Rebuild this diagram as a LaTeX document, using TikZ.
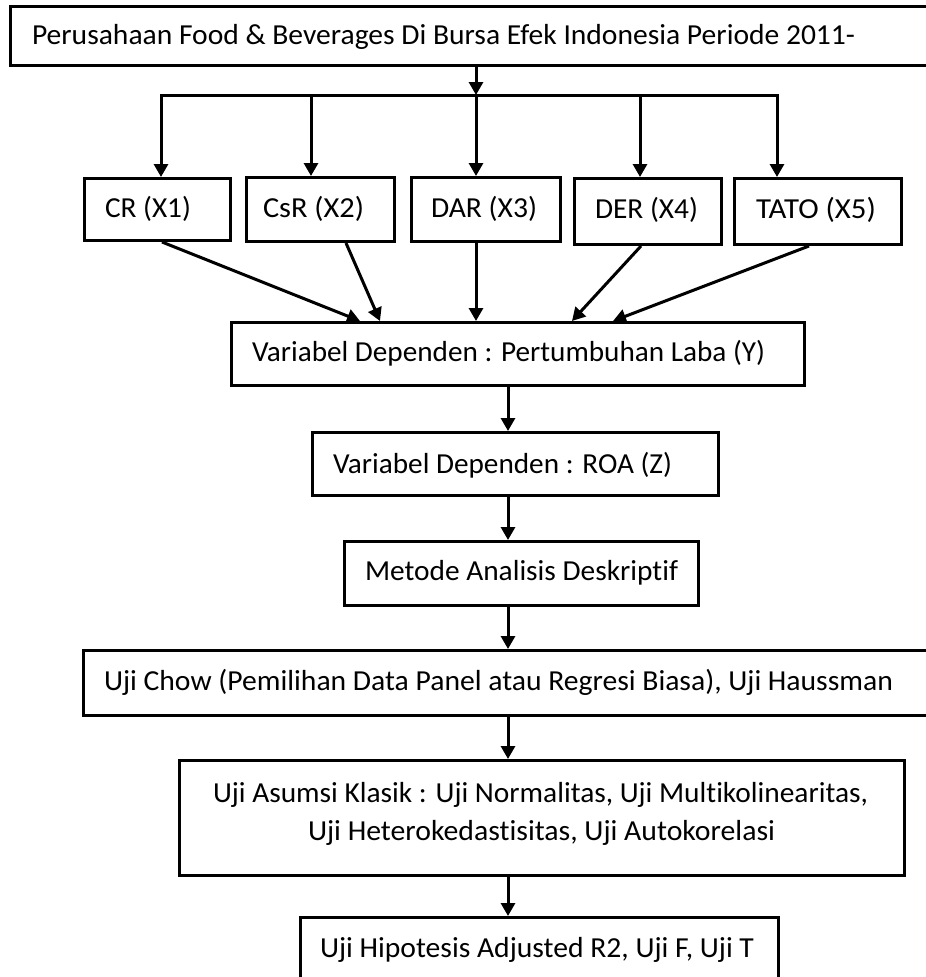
\documentclass[tikz,border=0pt]{standalone}
\usepackage{fontspec}
\setmainfont{Carlito}[Ligatures=NoCommon]
\usepackage{graphicx}
\usetikzlibrary{arrows.meta}
\tikzset{
  box/.style={draw=black, line width=3pt, rectangle, inner sep=0pt, fill=white},
  txt/.style={inner sep=0pt, outer sep=0pt, anchor=base west, font=\fontsize{29pt}{35pt}\selectfont},
  ln/.style={line width=3pt, line cap=rect},
  arr/.style={line width=3pt, -{Triangle[width=14pt,length=13pt]}}
}
\newcommand{\fitw}[2]{\resizebox{#1pt}{\height}{#2}}
\begin{document}
\begin{tikzpicture}[x=1pt,y=-1pt]
\useasboundingbox (0,0) rectangle (926,977);
\clip (0,0) rectangle (926,977);
\fill[white] (0,0) rectangle (926,977);
% boxes
\node[box, minimum width=928pt, minimum height=59pt] (top) at (474.5,36) {};
\node[box, minimum width=146pt, minimum height=62pt] (cr) at (157.5,209.5) {};
\node[box, minimum width=148pt, minimum height=64pt] (csr) at (320.5,209.5) {};
\node[box, minimum width=149pt, minimum height=64pt] (dar) at (486,209.5) {};
\node[box, minimum width=147pt, minimum height=66pt] (der) at (648,211.5) {};
\node[box, minimum width=167pt, minimum height=66pt] (tato) at (818,211.5) {};
\node[box, minimum width=573pt, minimum height=63pt] (yv) at (518,354) {};
\node[box, minimum width=406pt, minimum height=63pt] (roa) at (515.5,464) {};
\node[box, minimum width=354pt, minimum height=64pt] (metode) at (521.5,573.5) {};
\node[box, minimum width=855pt, minimum height=65pt] (chow) at (511,683) {};
\node[box, minimum width=725pt, minimum height=115pt] (asumsi) at (542,818) {};
\node[box, minimum width=478pt, minimum height=71pt] (hipo) at (539.5,953) {};
% texts
\node[txt] (t-top) at (32,44.5) {\fitw{823}{Perusahaan Food \& Beverages Di Bursa Efek Indonesia Periode 2011-}};
\node[txt] (t-cr) at (105,217) {\fitw{86}{CR (X1)}};
\node[txt] (t-csr) at (263,217) {\fitw{101}{CsR (X2)}};
\node[txt] (t-dar) at (431,217) {\fitw{106}{DAR (X3)}};
\node[txt] (t-der) at (595,218) {\fitw{103}{DER (X4)}};
\node[txt] (t-tato) at (756,218) {\fitw{120}{TATO (X5)}};
\node[txt] (t-yv) at (252,361) {\fitw{513}{Variabel Dependen : Pertumbuhan Laba (Y)}};
\node[txt] (t-roa) at (333,473) {\fitw{339}{Variabel Dependen : ROA (Z)}};
\node[txt] (t-metode) at (365,580) {\fitw{313}{Metode Analisis Deskriptif}};
\node[txt] (t-chow) at (104,690) {\fitw{789}{Uji Chow (Pemilihan Data Panel atau Regresi Biasa), Uji Haussman}};
\node[txt] (t-as1) at (213,802) {\fitw{655}{Uji Asumsi Klasik : Uji Normalitas, Uji Multikolinearitas,}};
\node[txt] (t-as2) at (308,840) {\fitw{467}{Uji Heterokedastisitas, Uji Autokorelasi}};
\node[txt] (t-hipo) at (320,957) {\fitw{434}{Uji Hipotesis Adjusted R2, Uji F, Uji T}};
% distribution bar
\coordinate (b1) at (161,95);
\coordinate (b2) at (311,95);
\coordinate (b3) at (476,95);
\coordinate (b4) at (640,95);
\coordinate (b5) at (777,95);
\draw[arr] (top.south -| b3) -- (b3);
\draw[ln] (b1) -- (b5);
\draw[arr] (b1) -- (cr.north -| b1);
\draw[arr] (b2) -- (csr.north -| b2);
\draw[arr] (b3) -- (dar.north -| b3);
\draw[arr] (b4) -- (der.north -| b4);
\draw[arr] (b5) -- (tato.north -| b5);
% converging
\coordinate (s1) at (162,0);
\coordinate (s2) at (346,0);
\coordinate (s3) at (476,0);
\coordinate (s4) at (641,0);
\coordinate (s5) at (809,0);
\coordinate (e1) at (360,0);
\coordinate (e2) at (380,0);
\coordinate (e3) at (476,0);
\coordinate (e4) at (572,0);
\coordinate (e5) at (613,0);
\draw[arr] (cr.south -| s1) -- (yv.north -| e1);
\draw[arr] (csr.south -| s2) -- (yv.north -| e2);
\draw[arr] (dar.south -| s3) -- (yv.north -| e3);
\draw[arr] (der.south -| s4) -- (yv.north -| e4);
\draw[arr] (tato.south -| s5) -- (yv.north -| e5);
% vertical chain
\coordinate (ax) at (508,0);
\draw[arr] (yv.south -| ax) -- (roa.north -| ax);
\draw[arr] (roa.south -| ax) -- (metode.north -| ax);
\draw[arr] (metode.south -| ax) -- (chow.north -| ax);
\draw[arr] (chow.south -| ax) -- (asumsi.north -| ax);
\draw[arr] (asumsi.south -| ax) -- (hipo.north -| ax);
\end{tikzpicture}
\end{document}
